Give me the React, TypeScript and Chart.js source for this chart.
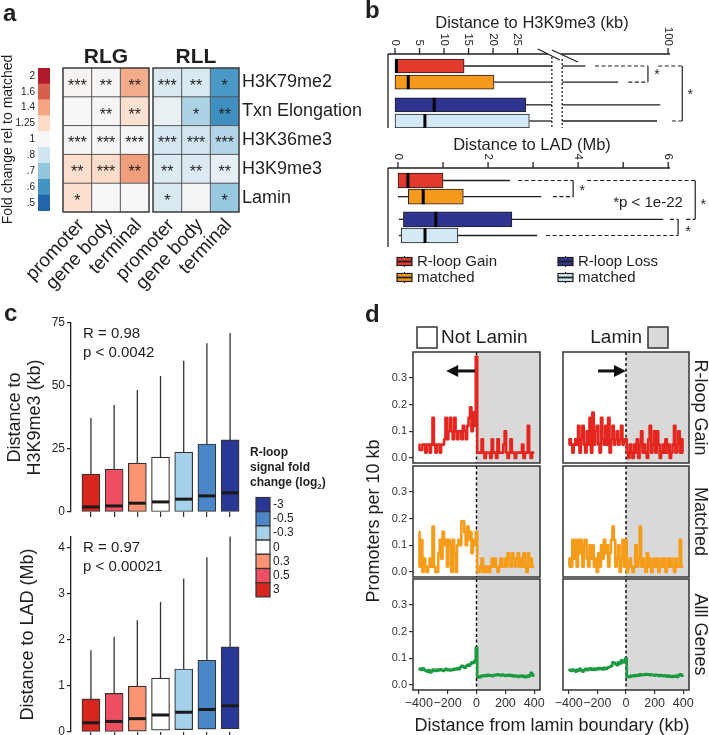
import React, { useEffect, useRef } from 'react';
import { Chart, registerables } from 'chart.js';

Chart.register(...registerables);

const FONT = "'Liberation Sans', Arial, Helvetica, sans-serif";
const PAGE_W = 709;
const PAGE_H = 735;
const INK = '#1f1f1f';
Chart.defaults.font.family = FONT;
Chart.defaults.color = INK;

// ================= Panel a : heatmap =================
const heatRows = ['H3K79me2', 'Txn Elongation', 'H3K36me3', 'H3K9me3', 'Lamin'];
const heatCols = ['promoter', 'gene body', 'terminal'];
const heatGroups = ['RLG', 'RLL'];
const rlgFold = [
  [1.03, 1.02, 1.38],
  [1.0, 1.02, 1.2],
  [1.02, 1.02, 1.02],
  [1.22, 1.24, 1.42],
  [1.2, 1.0, 1.0],
];
const rllFold = [
  [0.85, 0.84, 0.61],
  [0.92, 0.74, 0.59],
  [0.82, 0.81, 0.75],
  [0.86, 0.85, 0.91],
  [0.84, 0.98, 0.71],
];
const rlgStars = [
  ['***', '**', '**'],
  ['', '**', '**'],
  ['***', '***', '***'],
  ['**', '***', '**'],
  ['*', '', ''],
];
const rllStars = [
  ['***', '**', '*'],
  ['', '*', '**'],
  ['***', '***', '***'],
  ['**', '**', '**'],
  ['*', '', '*'],
];
const foldLabels = ['2', '1.6', '1.4', '1.25', '1', '.8', '.7', '.6', '.5'];
const foldColors = ['#b2182b', '#d6604d', '#f4a582', '#fddbc7', '#f7f7f7', '#d1e5f0', '#92c5de', '#4393c3', '#2166ac'];

// ================= Panel b : box plots =================
const bGroups = ['R-loop Gain', 'matched', 'R-loop Loss', 'matched'];
const bColors = ['#e23b2e', '#f59a1c', '#2d3590', '#d3e9f6'];
const kbMin = [0, 0, 0, 0];
const kbQ1 = [0, 0, 0, 0];
const kbMedian = [0.3, 2.7, 8.0, 6.1];
const kbQ3 = [14.1, 20.2, 26.7, 27.4];
const kbMax = [47, 68, 95, 93];
const kbTicks = [0, 5, 10, 15, 20, 25, 100];
const mbMin = [0, 0, 0.02, 0.02];
const mbQ1 = [0, 0.23, 0.12, 0.07];
const mbMedian = [0.22, 0.56, 0.84, 0.6];
const mbQ3 = [1.0, 1.45, 2.53, 1.33];
const mbMax = [2.49, 3.18, 5.89, 3.09];
const mbTicks = [0, 1, 2, 3, 4, 5, 6];
const mbTickLabels = ['0', '', '2', '', '4', '', '6'];

// ================= Panel c : box plots by fold change =================
const cFoldLevels = ['3', '0.5', '0.3', '0', '-0.3', '-0.5', '-3'];
const cColors = ['#d7261e', '#ee4f63', '#fc9372', '#ffffff', '#a6d1ea', '#4b86c6', '#2a3895'];
const h3k9Q1 = [0.2, 0.2, 0.2, 0.2, 0.2, 0.2, 0.2];
const h3k9Median = [2.0, 2.4, 3.5, 4.0, 5.1, 6.4, 7.6];
const h3k9Q3 = [15.0, 17.0, 19.4, 21.8, 23.8, 27.0, 28.6];
const h3k9Max = [37.3, 42.5, 48.4, 54.0, 60.0, 67.0, 71.0];
const h3k9Ticks = [0, 25, 50, 75];
const ladQ1 = [0.01, 0.01, 0.02, 0.04, 0.05, 0.06, 0.07];
const ladMedian = [0.2, 0.23, 0.29, 0.37, 0.43, 0.49, 0.57];
const ladQ3 = [0.72, 0.84, 1.0, 1.17, 1.37, 1.56, 1.85];
const ladMax = [1.78, 2.07, 2.43, 2.83, 3.34, 3.8, 4.25];
const ladTicks = [0, 1, 2, 3, 4];
const h3k9Stats = ['R = 0.98', 'p < 0.0042'];
const ladStats = ['R = 0.97', 'p < 0.00021'];

// ================= Panel d : promoter density =================
const dDistance = [
  -400, -390, -380, -370, -360, -350, -340, -330, -320, -310,
  -300, -290, -280, -270, -260, -250, -240, -230, -220, -210,
  -200, -190, -180, -170, -160, -150, -140, -130, -120, -110,
  -100, -90, -80, -70, -60, -50, -40, -30, -20, -10,
  0,
  10, 20, 30, 40, 50, 60, 70, 80, 90, 100,
  110, 120, 130, 140, 150, 160, 170, 180, 190, 200,
  210, 220, 230, 240, 250, 260, 270, 280, 290, 300,
  310, 320, 330, 340, 350, 360, 370, 380, 390, 400,
];
const rloopGainLeft = [
  0.05, 0.03, 0.03, 0.05, 0.05, 0.02, 0.05, 0.05, 0.02, 0.05,
  0.15, 0.05, 0.02, 0.05, 0.05, 0.02, 0.05, 0.05, 0.07, 0.15,
  0.07, 0.10, 0.15, 0.10, 0.07, 0.15, 0.10, 0.07, 0.10, 0.10,
  0.07, 0.12, 0.10, 0.07, 0.12, 0.15, 0.19, 0.10, 0.17, 0.12,
  0.38,
  0.02, 0.02, 0.02, 0.07, 0.02, 0.00, 0.02, 0.02, 0.02, 0.00,
  0.07, 0.02, 0.02, 0.00, 0.07, 0.02, 0.02, 0.02, 0.05, 0.10,
  0.02, 0.00, 0.02, 0.07, 0.02, 0.02, 0.00, 0.02, 0.02, 0.02,
  0.02, 0.05, 0.00, 0.02, 0.02, 0.12, 0.02, 0.00, 0.02, 0.02,
];
const rloopGainRight = [
  0.05, 0.07, 0.05, 0.02, 0.05, 0.07, 0.05, 0.12, 0.02, 0.07,
  0.12, 0.05, 0.02, 0.10, 0.05, 0.15, 0.02, 0.17, 0.05, 0.10,
  0.12, 0.05, 0.02, 0.15, 0.07, 0.05, 0.12, 0.05, 0.15, 0.02,
  0.07, 0.12, 0.05, 0.07, 0.10, 0.05, 0.07, 0.12, 0.05, 0.07,
  0.07,
  0.02, 0.00, 0.05, 0.02, 0.00, 0.05, 0.02, 0.07, 0.00, 0.05,
  0.10, 0.02, 0.05, 0.02, 0.00, 0.07, 0.12, 0.02, 0.05, 0.10,
  0.02, 0.10, 0.05, 0.00, 0.02, 0.05, 0.02, 0.07, 0.02, 0.05,
  0.00, 0.02, 0.05, 0.12, 0.02, 0.05, 0.10, 0.02, 0.07, 0.02,
];
const matchedLeft = [
  0.15, 0.02, 0.12, 0.00, 0.05, 0.02, 0.00, 0.02, 0.05, 0.02,
  0.17, 0.02, 0.00, 0.00, 0.07, 0.12, 0.05, 0.15, 0.10, 0.12,
  0.02, 0.12, 0.10, 0.00, 0.12, 0.07, 0.00, 0.10, 0.12, 0.10,
  0.19, 0.19, 0.15, 0.10, 0.17, 0.12, 0.15, 0.07, 0.12, 0.10,
  0.15,
  0.00, 0.00, 0.02, 0.05, 0.00, 0.02, 0.00, 0.02, 0.00, 0.02,
  0.05, 0.02, 0.05, 0.02, 0.00, 0.02, 0.05, 0.02, 0.02, 0.05,
  0.02, 0.07, 0.05, 0.02, 0.07, 0.05, 0.02, 0.05, 0.07, 0.02,
  0.05, 0.02, 0.07, 0.02, 0.00, 0.07, 0.02, 0.05, 0.02, 0.02,
];
const matchedRight = [
  0.02, 0.05, 0.02, 0.12, 0.05, 0.12, 0.02, 0.12, 0.07, 0.12,
  0.02, 0.10, 0.12, 0.05, 0.02, 0.10, 0.05, 0.10, 0.02, 0.05,
  0.00, 0.07, 0.02, 0.10, 0.05, 0.12, 0.07, 0.10, 0.02, 0.07,
  0.12, 0.17, 0.12, 0.02, 0.05, 0.10, 0.00, 0.05, 0.12, 0.02,
  0.12,
  0.00, 0.02, 0.05, 0.02, 0.00, 0.02, 0.10, 0.02, 0.05, 0.17,
  0.02, 0.05, 0.02, 0.00, 0.07, 0.02, 0.05, 0.00, 0.02, 0.05,
  0.02, 0.05, 0.00, 0.02, 0.05, 0.02, 0.05, 0.00, 0.02, 0.05,
  0.02, 0.05, 0.02, 0.00, 0.05, 0.02, 0.02, 0.12, 0.02, 0.02,
];
const allGenesLeft = [
  0.058, 0.060, 0.056, 0.062, 0.057, 0.053, 0.050, 0.056, 0.047, 0.050,
  0.058, 0.055, 0.052, 0.058, 0.054, 0.059, 0.056, 0.052, 0.057, 0.060,
  0.055, 0.058, 0.054, 0.058, 0.056, 0.060, 0.058, 0.062, 0.059, 0.066,
  0.072, 0.068, 0.064, 0.070, 0.075, 0.072, 0.078, 0.085, 0.082, 0.090,
  0.140,
  0.030, 0.028, 0.032, 0.035, 0.033, 0.036, 0.034, 0.038, 0.035, 0.036,
  0.033, 0.035, 0.038, 0.036, 0.040, 0.037, 0.035, 0.039, 0.036, 0.034,
  0.037, 0.035, 0.038, 0.034, 0.036, 0.032, 0.035, 0.033, 0.030, 0.034,
  0.032, 0.035, 0.031, 0.029, 0.034, 0.031, 0.036, 0.045, 0.035, 0.038,
];
const allGenesRight = [
  0.058, 0.055, 0.052, 0.058, 0.054, 0.050, 0.057, 0.053, 0.060, 0.055,
  0.050, 0.056, 0.060, 0.055, 0.058, 0.062, 0.057, 0.060, 0.056, 0.061,
  0.058, 0.063, 0.060, 0.062, 0.058, 0.064, 0.060, 0.063, 0.066, 0.068,
  0.072, 0.085, 0.083, 0.078, 0.074, 0.085, 0.080, 0.092, 0.084, 0.090,
  0.100,
  0.030, 0.032, 0.030, 0.035, 0.033, 0.036, 0.034, 0.037, 0.035, 0.040,
  0.036, 0.039, 0.037, 0.041, 0.038, 0.040, 0.036, 0.039, 0.037, 0.035,
  0.038, 0.036, 0.034, 0.037, 0.035, 0.033, 0.036, 0.034, 0.031, 0.035,
  0.032, 0.030, 0.033, 0.031, 0.034, 0.030, 0.036, 0.040, 0.035, 0.037,
];
const dXTicks = [-400, -200, 0, 200, 400];
const dYTicks = [0, 0.1, 0.2, 0.3];
const dHeaders = ['Not Lamin', 'Lamin'];
const dStrips = ['R-loop Gain', 'Matched', 'Alll Genes'];
const dColors = ['#e3261f', '#f59d1a', '#1b9a3f'];

// ================= helpers =================
type Rect = { l: number; t: number; r: number; b: number };
function padFor(a: Rect, ax: { left?: number; right?: number; top?: number; bottom?: number } = {}) {
  return {
    left: a.l - (ax.left || 0),
    top: a.t - (ax.top || 0),
    right: PAGE_W - a.r - (ax.right || 0),
    bottom: PAGE_H - a.b - (ax.bottom || 0),
  };
}
function fixSize(size: number) {
  return (s: any) => {
    if (s.isHorizontal()) s.height = size;
    else s.width = size;
    s.paddingLeft = 0;
    s.paddingRight = 0;
    s.paddingTop = 0;
    s.paddingBottom = 0;
  };
}
function fnt(size: number, weight = 'normal') {
  return `${weight} ${size}px ${FONT}`;
}
function ln(ctx: any, x1: number, y1: number, x2: number, y2: number) {
  ctx.beginPath();
  ctx.moveTo(x1, y1);
  ctx.lineTo(x2, y2);
  ctx.stroke();
}
function txt(ctx: any, s: string, x: number, y: number, f: string, align = 'left', baseline = 'middle', rot = 0, color = INK) {
  ctx.save();
  ctx.translate(x, y);
  if (rot) ctx.rotate(rot);
  ctx.font = f;
  ctx.fillStyle = color;
  ctx.textAlign = align;
  ctx.textBaseline = baseline;
  ctx.fillText(s, 0, 0);
  ctx.restore();
}
function vLabel(ctx: any, s: string, x: number, yEnd: number, size: number) {
  txt(ctx, s, x, yEnd, fnt(size), 'right', 'middle', Math.PI / 2);
}
function hexRgb(h: string) {
  const n = parseInt(h.slice(1), 16);
  return [(n >> 16) & 255, (n >> 8) & 255, n & 255];
}
function foldColor(v: number) {
  const stops = foldLabels.map(Number);
  if (v >= stops[0]) return foldColors[0];
  if (v <= stops[stops.length - 1]) return foldColors[stops.length - 1];
  for (let i = 0; i < stops.length - 1; i++) {
    const a = stops[i];
    const b = stops[i + 1];
    if (v <= a && v >= b) {
      const t = (a - v) / (a - b);
      const ca = hexRgb(foldColors[i]);
      const cb = hexRgb(foldColors[i + 1]);
      const c = ca.map((x, k) => Math.round(x + (cb[k] - x) * t));
      return `rgb(${c[0]},${c[1]},${c[2]})`;
    }
  }
  return foldColors[4];
}
const baseOptions = () => ({
  responsive: false,
  maintainAspectRatio: false,
  animation: false,
  events: [],
  plugins: { legend: { display: false }, tooltip: { enabled: false } },
});
const letterPlugin = (ch: string, x: number, y: number) => ({
  id: 'letter_' + ch,
  afterDraw(chart: any) {
    txt(chart.ctx, ch, x, y, fnt(24, 'bold'), 'left', 'alphabetic');
  },
});

// ================= Panel a charts =================
const HEAT_GAP = 0.14;
const heatTickValues = [0.5, 1.5, 2.5, 3.5 + HEAT_GAP, 4.5 + HEAT_GAP, 5.5 + HEAT_GAP];
const heatTickLabels = [...heatCols, ...heatCols];

function colorbarConfig() {
  return {
    type: 'bar',
    data: {
      labels: foldLabels,
      datasets: [{ data: foldLabels.map(() => 1), backgroundColor: foldColors, borderWidth: 0, barPercentage: 1, categoryPercentage: 1 }],
    },
    options: {
      ...baseOptions(),
      indexAxis: 'y',
      layout: { padding: padFor({ l: 38, t: 68, r: 50, b: 211 }, { left: 38 }) },
      scales: {
        x: { type: 'linear', display: false, min: 0, max: 1 },
        y: {
          type: 'category',
          position: 'left',
          grid: { display: false, drawTicks: false },
          border: { display: false },
          ticks: { font: { family: FONT, size: 10 }, color: INK, padding: 3 },
          title: { display: true, text: 'Fold change rel to matched', font: { family: FONT, size: 14 }, color: INK, padding: { top: 0, bottom: 0 } },
          afterFit: fixSize(38),
        },
      },
    },
    plugins: [],
  };
}

const heatPlugin = {
  id: 'heatDeco',
  afterDatasetsDraw(chart: any) {
    const { ctx, scales } = chart;
    const x = scales.x;
    const y = scales.y;
    const yt = y.getPixelForValue(-0.5);
    const yb = y.getPixelForValue(heatRows.length - 0.5);
    ctx.save();
    [rlgStars, rllStars].forEach((stars, g) => {
      const x0 = g === 0 ? 0 : 3 + HEAT_GAP;
      const xl = x.getPixelForValue(x0);
      const xr = x.getPixelForValue(x0 + 3);
      ctx.strokeStyle = '#555';
      ctx.lineWidth = 1;
      for (let c = 1; c < 3; c++) {
        const px = x.getPixelForValue(x0 + c);
        ln(ctx, px, yt, px, yb);
      }
      for (let r = 1; r < heatRows.length; r++) {
        const py = y.getPixelForValue(r - 0.5);
        ln(ctx, xl, py, xr, py);
      }
      ctx.strokeStyle = '#3a3a3a';
      ctx.lineWidth = 1.5;
      ctx.strokeRect(xl, yt, xr - xl, yb - yt);
      stars.forEach((row, r) =>
        row.forEach((s, c) => {
          if (!s) return;
          txt(ctx, s, x.getPixelForValue(x0 + c + 0.5), y.getPixelForValue(r) + 4, fnt(16), 'center', 'middle');
        })
      );
      txt(ctx, heatGroups[g], (xl + xr) / 2, yt - 11, fnt(21, 'bold'), 'center', 'middle');
    });
    // rotated column labels (end of each label sits under its column)
    heatTickValues.forEach((v, i) => {
      txt(ctx, heatTickLabels[i], x.getPixelForValue(v) + 4, yb + 10, fnt(19), 'right', 'middle', (-47 * Math.PI) / 180);
    });
    ctx.restore();
  },
};

function heatConfig() {
  const folds = [rlgFold, rllFold];
  const datasets: any[] = [];
  folds.forEach((fold, g) => {
    if (g === 1) datasets.push({ data: heatRows.map(() => HEAT_GAP), backgroundColor: 'rgba(0,0,0,0)' });
    heatCols.forEach((_, c) => {
      datasets.push({ data: heatRows.map(() => 1), backgroundColor: heatRows.map((_r, r) => foldColor(fold[r][c])) });
    });
  });
  return {
    type: 'bar',
    data: {
      labels: heatRows,
      datasets: datasets.map((d) => ({ ...d, borderWidth: 0, barPercentage: 1, categoryPercentage: 1 })),
    },
    options: {
      ...baseOptions(),
      indexAxis: 'y',
      layout: { padding: padFor({ l: 63, t: 68, r: 239, b: 212 }, { right: 122 }) },
      scales: {
        x: { type: 'linear', stacked: true, min: 0, max: 6 + HEAT_GAP, display: false },
        y: {
          type: 'category',
          stacked: true,
          position: 'right',
          grid: { display: false, drawTicks: false },
          border: { display: false },
          ticks: { padding: 3, color: INK, font: { family: FONT, size: 18 } },
          afterFit: fixSize(122),
        },
      },
    },
    plugins: [heatPlugin, letterPlugin('a', 3, 21)],
  };
}

// ================= Panel b charts =================
const bRowPos = [0, 1, 2.4, 3.4];
const K_BREAK = 32;
const K_RESUME = 34.1;
const K_AXIS_TOP = 55.7;
function kbAxis(v: number) {
  const top = kbTicks[kbTicks.length - 1];
  return v <= K_BREAK ? v : K_RESUME + ((v - K_BREAK) * (K_AXIS_TOP - K_RESUME)) / (top - K_BREAK);
}

function boxIcon(ctx: any, x: number, y: number, color: string) {
  ctx.strokeStyle = INK;
  ctx.lineWidth = 1.2;
  ln(ctx, x + 7.5, y, x + 7.5, y + 11);
  ctx.fillStyle = color;
  ctx.fillRect(x, y + 1.5, 15, 8);
  ctx.strokeRect(x, y + 1.5, 15, 8);
  ctx.lineWidth = 1.8;
  ln(ctx, x, y + 5.5, x + 15, y + 5.5);
}

const b1Plugin = {
  id: 'b1deco',
  afterDatasetsDraw(chart: any) {
    const { ctx, chartArea: ca, scales } = chart;
    const XA = (d: number) => scales.x.getPixelForValue(d);
    const X = (v: number) => XA(kbAxis(v));
    const Y = (i: number) => scales.y.getPixelForValue(bRowPos[i]);
    const br1 = XA(K_BREAK);
    const br2 = XA(K_RESUME);
    ctx.save();
    ctx.strokeStyle = INK;
    ctx.lineWidth = 1.3;
    bGroups.forEach((_, i) => {
      const yc = Y(i);
      const q3 = X(kbQ3[i]);
      const mx = X(kbMax[i]);
      if (kbMax[i] > K_BREAK) {
        ln(ctx, q3, yc, br1, yc);
        ln(ctx, br2, yc, mx, yc);
      } else ln(ctx, q3, yc, mx, yc);
      if (kbMin[i] < kbQ1[i]) ln(ctx, X(kbMin[i]), yc, X(kbQ1[i]), yc);
    });
    ctx.strokeStyle = '#000';
    ctx.lineWidth = 3;
    bGroups.forEach((_, i) => {
      const m = X(kbMedian[i]);
      const yc = Y(i);
      ln(ctx, m, yc - 7, m, yc + 7);
    });
    ctx.strokeStyle = INK;
    ctx.lineWidth = 1.3;
    ln(ctx, ca.left, ca.top, br1 - 4, ca.top);
    ln(ctx, br2 - 1, ca.top, ca.right, ca.top);
    ln(ctx, ca.left, ca.top, ca.left, ca.bottom);
    ln(ctx, br1 - 14, ca.top - 5, br1 + 8, ca.top + 6);
    ln(ctx, br1, ca.top - 4, br1 + 26, ca.top + 8);
    ctx.setLineDash([2, 2]);
    ln(ctx, br1, ca.top + 3, br1, ca.bottom);
    ln(ctx, br2, ca.top + 5, br2, ca.bottom);
    ctx.setLineDash([]);
    kbTicks.forEach((v) => {
      const px = X(v);
      ln(ctx, px, ca.top - 6, px, ca.top);
      vLabel(ctx, String(v), px, ca.top - 8, 11.5);
    });
    txt(ctx, 'Distance to H3K9me3 (kb)', 532, 23, fnt(16.5), 'center');
    ctx.lineWidth = 1.2;
    ctx.setLineDash([4, 2.5]);
    ln(ctx, XA(40.8), Y(0), XA(51.6), Y(0));
    ln(ctx, XA(47.6), Y(1), XA(51.6), Y(1));
    ln(ctx, XA(53.7), Y(0), XA(58.6), Y(0));
    ln(ctx, XA(56.5), Y(3), XA(58.6), Y(3));
    ctx.setLineDash([]);
    ln(ctx, XA(51.6), Y(0), XA(51.6), Y(1));
    ln(ctx, XA(58.6), Y(0), XA(58.6), Y(3));
    txt(ctx, '*', XA(51.6) + 9, (Y(0) + Y(1)) / 2 + 1, fnt(14), 'center');
    txt(ctx, '*', XA(58.6) + 8, (Y(0) + Y(3)) / 2 + 1.5, fnt(14), 'center');
    ctx.restore();
  },
};

const b2Plugin = {
  id: 'b2deco',
  afterDatasetsDraw(chart: any) {
    const { ctx, chartArea: ca, scales } = chart;
    const X = (v: number) => scales.x.getPixelForValue(v);
    const Y = (i: number) => scales.y.getPixelForValue(bRowPos[i]);
    ctx.save();
    ctx.strokeStyle = INK;
    ctx.lineWidth = 1.3;
    bGroups.forEach((_, i) => {
      const yc = Y(i);
      ln(ctx, X(mbQ3[i]), yc, X(mbMax[i]), yc);
      if (mbMin[i] < mbQ1[i]) ln(ctx, X(mbMin[i]), yc, X(mbQ1[i]), yc);
    });
    ctx.strokeStyle = '#000';
    ctx.lineWidth = 3;
    bGroups.forEach((_, i) => {
      const m = X(mbMedian[i]);
      const yc = Y(i);
      ln(ctx, m, yc - 7.5, m, yc + 7.5);
    });
    ctx.strokeStyle = INK;
    ctx.lineWidth = 1.3;
    ln(ctx, ca.left, ca.top, ca.right, ca.top);
    ln(ctx, ca.left, ca.top, ca.left, ca.bottom);
    mbTicks.forEach((v, k) => {
      const px = X(v);
      ln(ctx, px, ca.top - 6, px, ca.top);
      if (mbTickLabels[k]) vLabel(ctx, mbTickLabels[k], px, ca.top - 8, 11.5);
    });
    txt(ctx, 'Distance to LAD (Mb)', 532, 145, fnt(16.5), 'center');
    ctx.lineWidth = 1.2;
    ctx.setLineDash([4, 2.5]);
    ln(ctx, X(2.67), Y(0), X(3.89), Y(0));
    ln(ctx, X(3.44), Y(1), X(3.89), Y(1));
    ln(ctx, X(4.2), Y(0), X(6.6), Y(0));
    ln(ctx, X(6.4), Y(2), X(6.6), Y(2));
    ln(ctx, X(6.04), Y(2), X(6.22), Y(2));
    ln(ctx, X(3.29), Y(3), X(6.22), Y(3));
    ctx.setLineDash([]);
    ln(ctx, X(3.89), Y(0), X(3.89), Y(1));
    ln(ctx, X(6.6), Y(0), X(6.6), Y(2));
    ln(ctx, X(6.22), Y(2), X(6.22), Y(3));
    txt(ctx, '*', X(3.89) + 9, (Y(0) + Y(1)) / 2 + 3, fnt(14), 'center');
    txt(ctx, '*', X(6.6) + 8, (Y(0) + Y(2)) / 2 + 5, fnt(14), 'center');
    txt(ctx, '*', X(6.22) + 10, (Y(2) + Y(3)) / 2 + 5, fnt(14), 'center');
    txt(ctx, '*p < 1e-22', 648, 203, fnt(15), 'center');
    const legendPos = [
      [397, 256],
      [397, 272],
      [558, 256],
      [558, 272],
    ];
    bGroups.forEach((g, i) => {
      const [lx, ly] = legendPos[i];
      boxIcon(ctx, lx, ly, bColors[i]);
      txt(ctx, g, lx + 20, ly + 6, fnt(15));
    });
    ctx.restore();
  },
};

function bConfig(q1: number[], q3: number[], tf: (v: number) => number, area: Rect, xr: number[], yr: number[], thick: number, plugins: any[]) {
  return {
    type: 'bar',
    data: {
      datasets: [
        {
          data: bGroups.map((_, i) => ({ y: bRowPos[i], x: [tf(q1[i]), tf(q3[i])] })),
          backgroundColor: bColors,
          borderColor: INK,
          borderWidth: 1,
          borderSkipped: false,
          barThickness: thick,
        },
      ],
    },
    options: {
      ...baseOptions(),
      indexAxis: 'y',
      layout: { padding: padFor(area) },
      scales: {
        x: { type: 'linear', display: false, min: xr[0], max: xr[1], offset: false },
        y: { type: 'linear', display: false, min: yr[0], max: yr[1], reverse: true, offset: false },
      },
    },
    plugins,
  };
}
const b1Config = () =>
  bConfig(kbQ1, kbQ3, kbAxis, { l: 388, t: 54, r: 670, b: 128 }, [-1.43, 56.1], [-0.742, 3.832], 14, [b1Plugin, letterPlugin('b', 365, 18)]);
const b2Config = () =>
  bConfig(mbQ1, mbQ3, (v) => v, { l: 388, t: 168, r: 670, b: 247 }, [-0.222, 6.04], [-0.773, 4.11], 15, [b2Plugin]);

// ================= Panel c charts =================
function cLegend(ctx: any) {
  txt(ctx, 'R-loop', 250, 453, fnt(12, 'bold'));
  txt(ctx, 'signal fold', 250, 468, fnt(12, 'bold'));
  ctx.save();
  ctx.font = fnt(12, 'bold');
  const w1 = ctx.measureText('change (log').width;
  ctx.font = fnt(8, 'bold');
  const w2 = ctx.measureText('2').width;
  ctx.restore();
  txt(ctx, 'change (log', 250, 483, fnt(12, 'bold'));
  txt(ctx, '2', 250 + w1, 487, fnt(8, 'bold'));
  txt(ctx, ')', 250 + w1 + w2, 483, fnt(12, 'bold'));
  const n = cFoldLevels.length;
  for (let k = 0; k < n; k++) {
    const i = n - 1 - k;
    const top = 497.5 + k * 14.2;
    ctx.fillStyle = cColors[i];
    ctx.fillRect(256, top, 14, 14.2);
    ctx.strokeStyle = '#333';
    ctx.lineWidth = 1.2;
    ctx.strokeRect(256, top, 14, 14.2);
    txt(ctx, cFoldLevels[i], 273, top + 7.1, fnt(12));
  }
}

function cPlugin(med: number[], q3: number[], mx: number[], stats: string[], withLegend: boolean) {
  return {
    id: 'cdeco',
    afterDatasetsDraw(chart: any) {
      const { ctx, chartArea: ca, scales } = chart;
      const x = scales.x;
      const y = scales.y;
      ctx.save();
      cFoldLevels.forEach((_, i) => {
        const px = x.getPixelForValue(i + 1);
        ctx.strokeStyle = '#333';
        ctx.lineWidth = 1.3;
        ln(ctx, px, y.getPixelForValue(q3[i]), px, y.getPixelForValue(mx[i]));
        ctx.strokeStyle = '#1a1a1a';
        ctx.lineWidth = 3;
        const my = y.getPixelForValue(med[i]);
        ln(ctx, px - 8.5, my, px + 8.5, my);
      });
      txt(ctx, stats[0], ca.left + 12, ca.top + 10.5, fnt(15));
      txt(ctx, stats[1], ca.left + 12, ca.top + 29.5, fnt(15));
      if (withLegend) cLegend(ctx);
      ctx.restore();
    },
  };
}

function cConfig(q1: number[], med: number[], q3: number[], mx: number[], area: Rect, yMax: number, yTicks: number[], title: any, titlePad: number, stats: string[], withLegend: boolean, plugins: any[]) {
  const xh = Math.min(10, PAGE_H - area.b);
  return {
    type: 'bar',
    data: {
      datasets: [
        {
          data: cFoldLevels.map((_, i) => ({ x: i + 1, y: [q1[i], q3[i]] })),
          backgroundColor: cColors,
          borderColor: '#333',
          borderWidth: 1.2,
          borderSkipped: false,
          barThickness: 18,
        },
      ],
    },
    options: {
      ...baseOptions(),
      layout: { padding: padFor(area, { left: 71, bottom: xh }) },
      scales: {
        x: {
          type: 'linear',
          min: 0.14,
          max: 7.6,
          offset: false,
          afterBuildTicks: (s: any) => {
            s.ticks = cFoldLevels.map((_, i) => ({ value: i + 1 }));
          },
          ticks: { display: true, padding: 0, callback: () => '' },
          grid: { offset: false, drawOnChartArea: false, drawTicks: true, tickLength: 5, color: '#333', lineWidth: 1.2 },
          border: { display: false },
          afterFit: fixSize(xh),
        },
        y: {
          type: 'linear',
          min: 0,
          max: yMax,
          offset: false,
          afterBuildTicks: (s: any) => {
            s.ticks = yTicks.map((v) => ({ value: v }));
          },
          ticks: { padding: 2, color: INK, font: { family: FONT, size: 12 } },
          grid: { drawOnChartArea: false, drawTicks: true, tickLength: 4, color: INK, lineWidth: 1.2 },
          border: { display: true, color: INK, width: 1.3 },
          title: { display: true, text: title, color: INK, font: { family: FONT, size: 18, lineHeight: 1.1 }, padding: { top: titlePad, bottom: 0 } },
          afterFit: fixSize(71),
        },
      },
    },
    plugins: [cPlugin(med, q3, mx, stats, withLegend), ...plugins],
  };
}
const c1Config = () =>
  cConfig(h3k9Q1, h3k9Median, h3k9Q3, h3k9Max, { l: 71, t: 323, r: 244, b: 512 }, 75, h3k9Ticks, ['Distance to', 'H3K9me3 (kb)'], 5, h3k9Stats, true, [letterPlugin('c', 4, 321)]);
const c2Config = () =>
  cConfig(ladQ1, ladMedian, ladQ3, ladMax, { l: 71, t: 537, r: 244, b: 732 }, 4.24, ladTicks, 'Distance to LAD (Mb)', 18, ladStats, false, []);

// ================= Panel d charts =================
const dColL = [413, 563];
const dColR = [540, 689];
const dRowT = [352, 466, 579];
const dRowB = [463, 577, 690];
const dArrows = [
  [-10, -210, 0.326],
  [-195, 0, 0.326],
];

function drawArrow(ctx: any, x1: number, y: number, x2: number) {
  const dir = Math.sign(x2 - x1);
  const hl = 12;
  const hw = 6;
  ctx.strokeStyle = '#111';
  ctx.fillStyle = '#111';
  ctx.lineWidth = 3;
  ln(ctx, x1, y, x2 - dir * hl * 0.8, y);
  ctx.beginPath();
  ctx.moveTo(x2, y);
  ctx.lineTo(x2 - dir * hl, y - hw);
  ctx.lineTo(x2 - dir * hl, y + hw);
  ctx.closePath();
  ctx.fill();
}

function dPanelPlugin(arrow: number[] | null) {
  return {
    id: 'dpanel',
    beforeDatasetsDraw(chart: any) {
      const { ctx, chartArea: ca, scales } = chart;
      const x0 = scales.x.getPixelForValue(0);
      ctx.save();
      ctx.fillStyle = '#d9d9d9';
      ctx.fillRect(x0, ca.top, ca.right - x0, ca.bottom - ca.top);
      ctx.strokeStyle = '#000';
      ctx.lineWidth = 1.4;
      ctx.setLineDash([3, 2.5]);
      ln(ctx, x0, ca.top, x0, ca.bottom);
      ctx.restore();
    },
    afterDatasetsDraw(chart: any) {
      const { ctx, chartArea: ca, scales } = chart;
      ctx.save();
      ctx.strokeStyle = '#333';
      ctx.lineWidth = 1.5;
      ctx.strokeRect(ca.left, ca.top, ca.right - ca.left, ca.bottom - ca.top);
      if (arrow) drawArrow(ctx, scales.x.getPixelForValue(arrow[0]), scales.y.getPixelForValue(arrow[2]), scales.x.getPixelForValue(arrow[1]));
      ctx.restore();
    },
  };
}

const dTextPlugin = {
  id: 'dtext',
  afterDraw(chart: any) {
    const ctx = chart.ctx;
    txt(ctx, 'd', 365, 322, fnt(24, 'bold'), 'left', 'alphabetic');
    ctx.save();
    ctx.strokeStyle = '#333';
    ctx.lineWidth = 1.5;
    ctx.fillStyle = '#ffffff';
    ctx.fillRect(417, 327, 20, 21);
    ctx.strokeRect(417, 327, 20, 21);
    ctx.fillStyle = '#d9d9d9';
    ctx.fillRect(648, 327, 20, 21);
    ctx.strokeRect(648, 327, 20, 21);
    ctx.restore();
    txt(ctx, dHeaders[0], 441, 338, fnt(19));
    txt(ctx, dHeaders[1], 642, 338, fnt(19), 'right');
    dStrips.forEach((s, r) => txt(ctx, s, 700, (dRowT[r] + dRowB[r]) / 2, fnt(18), 'center', 'middle', Math.PI / 2));
    txt(ctx, 'Promoters per 10 kb', 374, (dRowT[0] + dRowB[2]) / 2, fnt(18), 'center', 'middle', -Math.PI / 2);
    txt(ctx, 'Distance from lamin boundary (kb)', 552, 726, fnt(18), 'center');
  },
};

function dConfig(series: number[], color: string, col: number, row: number, arrow: number[] | null, extra: any[]) {
  const area = { l: dColL[col], r: dColR[col], t: dRowT[row], b: dRowB[row] };
  const showY = col === 0;
  const showX = row === 2;
  const x: any = {
    type: 'linear',
    min: -440,
    max: 440,
    display: showX,
    afterBuildTicks: (s: any) => {
      s.ticks = dXTicks.map((v) => ({ value: v }));
    },
    ticks: {
      autoSkip: false,
      maxRotation: 0,
      minRotation: 0,
      padding: 2,
      color: '#333',
      font: { family: FONT, size: 12.5 },
      callback: (v: number) => (v < 0 ? '\u2212' + Math.abs(v) : String(v)),
    },
    grid: { drawOnChartArea: false, drawTicks: true, tickLength: 4, color: '#333', lineWidth: 1.2 },
    border: { display: false },
  };
  if (showX) x.afterFit = fixSize(30);
  const y: any = {
    type: 'linear',
    min: -0.019,
    max: 0.397,
    display: showY,
    afterBuildTicks: (s: any) => {
      s.ticks = dYTicks.map((v) => ({ value: v }));
    },
    ticks: { padding: 2, color: '#333', font: { family: FONT, size: 11 }, callback: (v: number) => v.toFixed(1) },
    grid: { drawOnChartArea: false, drawTicks: true, tickLength: 4, color: '#333', lineWidth: 1.2 },
    border: { display: false },
  };
  if (showY) y.afterFit = fixSize(40);
  return {
    type: 'line',
    data: {
      datasets: [
        {
          data: dDistance.map((d, i) => ({ x: d, y: series[i] })),
          borderColor: color,
          borderWidth: 2.6,
          pointRadius: 0,
          stepped: 'middle',
          fill: false,
          borderJoinStyle: 'round',
        },
      ],
    },
    options: {
      ...baseOptions(),
      layout: { padding: padFor(area, { left: showY ? 40 : 0, bottom: showX ? 30 : 0 }) },
      scales: { x, y },
    },
    plugins: [dPanelPlugin(arrow), ...extra],
  };
}

const dSeries = [
  [rloopGainLeft, rloopGainRight],
  [matchedLeft, matchedRight],
  [allGenesLeft, allGenesRight],
];
const dMakers: (() => any)[] = [];
dSeries.forEach((pair, row) =>
  pair.forEach((series, col) => {
    dMakers.push(() => dConfig(series, dColors[row], col, row, row === 0 ? dArrows[col] : null, row === 0 && col === 0 ? [dTextPlugin] : []));
  })
);

const layers: (() => any)[] = [colorbarConfig, heatConfig, b1Config, b2Config, c1Config, c2Config, ...dMakers];

function ChartLayer({ make }: { make: () => any }) {
  const ref = useRef<HTMLCanvasElement | null>(null);
  useEffect(() => {
    if (!ref.current) return;
    const chart = new Chart(ref.current, make());
    return () => chart.destroy();
  }, [make]);
  return (
    <canvas
      ref={ref}
      width={PAGE_W}
      height={PAGE_H}
      style={{ position: 'absolute', left: 0, top: 0, width: PAGE_W + 'px', height: PAGE_H + 'px' }}
    />
  );
}

export default function App() {
  return (
    <div style={{ position: 'absolute', left: 0, top: 0, width: PAGE_W, height: PAGE_H, background: '#ffffff', overflow: 'hidden' }}>
      {layers.map((m, i) => (
        <ChartLayer key={i} make={m} />
      ))}
    </div>
  );
}
